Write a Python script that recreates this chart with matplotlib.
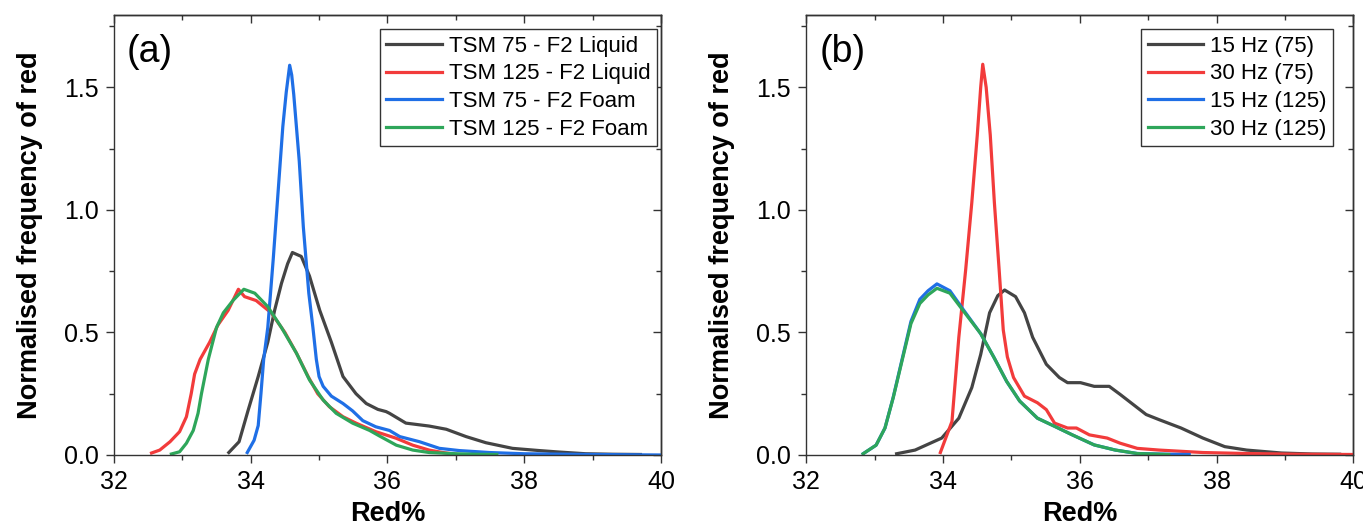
import matplotlib
matplotlib.use('Agg')
import matplotlib.pyplot as plt
from matplotlib.ticker import MultipleLocator

plt.rcParams['font.family'] = ['Liberation Sans', 'DejaVu Sans']

# 数据: (a) 图
tsm75_liquid_x = [33.68, 33.83, 33.96, 34.11, 34.25, 34.35, 34.45, 34.54, 34.61, 34.74, 34.86, 35.01, 35.18, 35.35,
                  35.54, 35.69, 35.86, 35.98, 36.03, 36.27, 36.61, 36.86, 37.15, 37.44, 37.83, 38.22, 38.51, 38.9,
                  39.3, 39.7]
tsm75_liquid_y = [0.01, 0.054, 0.18, 0.32, 0.46, 0.59, 0.70, 0.78, 0.826, 0.81, 0.73, 0.59, 0.46, 0.32,
                  0.25, 0.21, 0.186, 0.177, 0.17, 0.13, 0.118, 0.105, 0.075, 0.05, 0.027, 0.018, 0.012, 0.005,
                  0.003, 0.002]

tsm125_liquid_x = [32.55, 32.67, 32.82, 32.96, 33.06, 33.13, 33.18, 33.26, 33.40, 33.52, 33.67, 33.82, 33.91, 34.08,
                   34.30, 34.50, 34.67, 34.84, 34.98, 35.15, 35.35, 35.54, 35.83, 36.13, 36.37, 36.61, 36.81, 37.0]
tsm125_liquid_y = [0.008, 0.02, 0.054, 0.095, 0.156, 0.25, 0.33, 0.39, 0.46, 0.53, 0.59, 0.676, 0.646, 0.63,
                   0.58, 0.50, 0.415, 0.32, 0.25, 0.197, 0.156, 0.13, 0.095, 0.068, 0.04, 0.02, 0.01, 0.003]

tsm75_foam_x = [33.95, 34.05, 34.11, 34.15, 34.19, 34.25, 34.33, 34.40, 34.47, 34.52, 34.57, 34.60,
                34.63, 34.71, 34.77, 34.85, 34.91, 34.96, 35.0, 35.06, 35.18, 35.35, 35.49, 35.64, 35.83, 36.03,
                36.18, 36.47, 36.76, 37.05, 37.49, 38.0, 39.0, 40.0]
tsm75_foam_y = [0.01, 0.06, 0.12, 0.25, 0.39, 0.52, 0.80, 1.07, 1.34, 1.48, 1.59, 1.55,
                1.47, 1.20, 0.93, 0.66, 0.52, 0.39, 0.32, 0.28, 0.24, 0.21, 0.18, 0.14, 0.115, 0.10,
                0.075, 0.054, 0.027, 0.018, 0.01, 0.005, 0.002, 0.0]

tsm125_foam_x = [32.84, 32.96, 33.06, 33.16, 33.23, 33.28, 33.38, 33.50, 33.60, 33.74, 33.90, 34.06, 34.25, 34.45,
                 34.67, 34.86, 35.06, 35.25, 35.49, 35.74, 35.88, 36.13, 36.37, 36.61, 37.0, 37.3, 37.6]
tsm125_foam_y = [0.004, 0.013, 0.048, 0.10, 0.17, 0.25, 0.39, 0.52, 0.58, 0.63, 0.676, 0.66, 0.605, 0.52,
                 0.415, 0.306, 0.224, 0.17, 0.13, 0.10, 0.078, 0.04, 0.02, 0.01, 0.005, 0.003, 0.002]

# 数据: (b) 图
hz15_75_x = [33.32, 33.59, 33.98, 34.23, 34.42, 34.55, 34.68, 34.80, 34.90, 35.06, 35.19, 35.31, 35.51, 35.70,
             35.82, 36.01, 36.21, 36.43, 36.59, 36.78, 36.97, 37.16, 37.48, 37.80, 38.12, 38.44, 38.95, 39.4, 39.8]
hz15_75_y = [0.005, 0.02, 0.069, 0.15, 0.275, 0.41, 0.58, 0.65, 0.673, 0.646, 0.58, 0.48, 0.37, 0.316,
             0.295, 0.295, 0.28, 0.28, 0.247, 0.206, 0.165, 0.144, 0.11, 0.069, 0.034, 0.02, 0.008, 0.004, 0.003]

hz30_75_x = [33.96, 34.13, 34.23, 34.33, 34.42, 34.50, 34.55, 34.58, 34.63, 34.69, 34.75, 34.82, 34.88, 34.94,
             35.03, 35.19, 35.38, 35.51, 35.63, 35.82, 35.95, 36.14, 36.40, 36.59, 36.84, 37.16, 37.80, 38.44,
             39.2, 40.0]
hz30_75_y = [0.01, 0.137, 0.48, 0.755, 1.03, 1.305, 1.50, 1.594, 1.50, 1.305, 1.03, 0.755, 0.51, 0.40,
             0.316, 0.24, 0.213, 0.185, 0.13, 0.11, 0.11, 0.082, 0.069, 0.048, 0.027, 0.02, 0.01, 0.006,
             0.003, 0.002]

hz15_125_x = [32.83, 33.02, 33.15, 33.27, 33.40, 33.53, 33.66, 33.78, 33.91, 34.10, 34.29, 34.55, 34.74, 34.93,
              35.12, 35.38, 35.63, 35.89, 36.21, 36.52, 36.84, 37.3, 37.6]
hz15_125_y = [0.005, 0.04, 0.11, 0.235, 0.39, 0.545, 0.635, 0.67, 0.698, 0.67, 0.595, 0.495, 0.40, 0.30,
              0.22, 0.15, 0.117, 0.082, 0.041, 0.02, 0.006, 0.003, 0.002]

hz30_125_x = [32.83, 33.02, 33.15, 33.27, 33.40, 33.53, 33.66, 33.78, 33.91, 34.10, 34.29, 34.55, 34.74, 34.93,
              35.12, 35.38, 35.63, 35.89, 36.21, 36.52, 36.84, 37.3]
hz30_125_y = [0.005, 0.04, 0.11, 0.233, 0.385, 0.536, 0.618, 0.653, 0.68, 0.66, 0.59, 0.495, 0.40, 0.30,
              0.22, 0.15, 0.117, 0.082, 0.041, 0.02, 0.006, 0.002]

labels_a = ['TSM 75 - F2 Liquid', 'TSM 125 - F2 Liquid', 'TSM 75 - F2 Foam', 'TSM 125 - F2 Foam']
labels_b = ['15 Hz (75)', '30 Hz (75)', '15 Hz (125)', '30 Hz (125)']

# 颜色
BLACK = '#444444'
RED = '#f23b3b'
BLUE = '#1f6fe6'
GREEN = '#2ea65a'
LW = 2.3


def style_axes(ax):
    ax.set_xlim(32, 40)
    ax.set_ylim(0, 1.795)
    ax.xaxis.set_major_locator(MultipleLocator(2))
    ax.xaxis.set_minor_locator(MultipleLocator(1))
    ax.yaxis.set_major_locator(MultipleLocator(0.5))
    ax.yaxis.set_minor_locator(MultipleLocator(0.25))
    ax.tick_params(which='major', direction='out', length=6, width=1, labelsize=18, pad=5, color='#333333')
    ax.tick_params(which='minor', direction='out', length=3.5, width=1, color='#333333')
    for sp in ax.spines.values():
        sp.set_linewidth(1.0)
        sp.set_color('#333333')
    # 顶部和右侧向内的刻度
    top = ax.secondary_xaxis('top')
    top.xaxis.set_major_locator(MultipleLocator(2))
    top.xaxis.set_minor_locator(MultipleLocator(1))
    top.tick_params(which='major', direction='in', length=6, width=1, labeltop=False, color='#333333')
    top.tick_params(which='minor', direction='in', length=3.5, width=1, color='#333333')
    right = ax.secondary_yaxis('right')
    right.yaxis.set_major_locator(MultipleLocator(0.5))
    right.yaxis.set_minor_locator(MultipleLocator(0.25))
    right.tick_params(which='major', direction='in', length=6, width=1, labelright=False, color='#333333')
    right.tick_params(which='minor', direction='in', length=3.5, width=1, color='#333333')
    top.spines['top'].set_linewidth(1.0)
    right.spines['right'].set_linewidth(1.0)
    ax.set_xlabel('Red%', fontsize=19.5, fontweight='bold', labelpad=5)
    ax.set_ylabel('Normalised frequency of red', fontsize=19.5, fontweight='bold', labelpad=15)


fig = plt.figure(figsize=(13.63, 5.28), dpi=100)
ax1 = fig.add_axes([0.0836, 0.1383, 0.4013, 0.8333])
ax2 = fig.add_axes([0.5916, 0.1383, 0.4013, 0.8333])

# (a)
ax1.plot(tsm75_liquid_x, tsm75_liquid_y, color=BLACK, lw=LW, label=labels_a[0])
ax1.plot(tsm125_liquid_x, tsm125_liquid_y, color=RED, lw=LW, label=labels_a[1])
ax1.plot(tsm75_foam_x, tsm75_foam_y, color=BLUE, lw=LW, label=labels_a[2])
ax1.plot(tsm125_foam_x, tsm125_foam_y, color=GREEN, lw=LW, label=labels_a[3])
style_axes(ax1)
ax1.text(0.024, 0.915, '(a)', transform=ax1.transAxes, fontsize=27, va='center', ha='left')
leg1 = ax1.legend(loc='upper right', bbox_to_anchor=(0.9927, 0.968), borderaxespad=0, fontsize=16,
                  handlelength=2.5, handletextpad=0.3, labelspacing=0.3, borderpad=0.3,
                  fancybox=False, edgecolor='#333333', framealpha=1)
leg1.get_frame().set_linewidth(1.0)

# (b)
ax2.plot(hz15_75_x, hz15_75_y, color=BLACK, lw=LW, label=labels_b[0])
ax2.plot(hz30_75_x, hz30_75_y, color=RED, lw=LW, label=labels_b[1])
ax2.plot(hz15_125_x, hz15_125_y, color=BLUE, lw=LW, label=labels_b[2])
ax2.plot(hz30_125_x, hz30_125_y, color=GREEN, lw=LW, label=labels_b[3])
style_axes(ax2)
ax2.text(0.024, 0.915, '(b)', transform=ax2.transAxes, fontsize=27, va='center', ha='left')
leg2 = ax2.legend(loc='upper right', bbox_to_anchor=(0.963, 0.968), borderaxespad=0, fontsize=16,
                  handlelength=2.5, handletextpad=0.3, labelspacing=0.3, borderpad=0.3,
                  fancybox=False, edgecolor='#333333', framealpha=1)
leg2.get_frame().set_linewidth(1.0)

fig.savefig('out.png', dpi=100)
plt.close(fig)
